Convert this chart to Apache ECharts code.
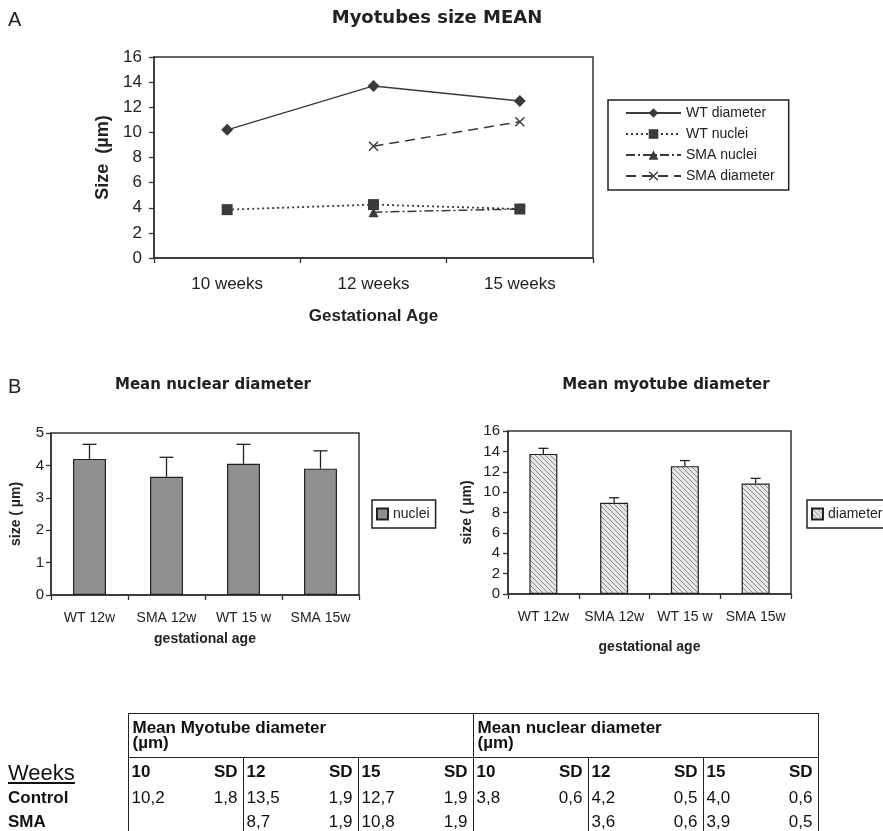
<!DOCTYPE html>
<html>
<head>
<meta charset="utf-8">
<script src="https://cdn.jsdelivr.net/npm/echarts@6/dist/echarts.min.js"></script>
<style>
  html, body { margin:0; padding:0; background:#fff; }
  #chart { position:absolute; left:0; top:0; width:883px; height:831px; }
  #tbl { position:absolute; left:8px; top:713px; border-collapse:collapse; table-layout:fixed;
         font-family:'Liberation Sans', Arial, sans-serif; color:#111; }
  #tbl td { padding:0; white-space:nowrap; overflow:visible; font-size:17px; }
  #tbl td.hdr { border:1.5px solid #222; vertical-align:top; padding:6px 0 0 4px; font-weight:bold; line-height:15px; }
  #tbl td.lab { font-weight:bold; padding-left:0; vertical-align:middle; }
  #tbl td.weeks { font-size:22px; text-decoration:underline; vertical-align:bottom; font-weight:normal; }
  #tbl td.v { border-left:1.5px solid #222; padding-left:3px; vertical-align:middle; }
  #tbl td.s { text-align:right; padding-right:5px; vertical-align:middle; }
  #tbl td.last { border-right:1.5px solid #222; }
  #tbl tr.wk td.v, #tbl tr.wk td.s { font-weight:bold; }
</style>
</head>
<body>
<div id="chart"></div>
<table id="tbl"></table>
<script>
// ---------- Panel A data ----------
const weekCats = ['10 weeks', '12 weeks', '15 weeks'];
const wtDiameter = [10.2, 13.7, 12.5];
const wtNuclei = [3.85, 4.25, 3.9];
const smaNuclei = [null, 3.65, 3.9];
const smaDiameter = [null, 8.9, 10.85];

// ---------- Panel B data ----------
const barCats = ['WT 12w', 'SMA 12w', 'WT 15 w', 'SMA 15w'];
const nucleiMean = [4.2, 3.65, 4.05, 3.9];
const nucleiErr = [0.45, 0.6, 0.6, 0.55];
const diameterMean = [13.75, 8.95, 12.55, 10.85];
const diameterErr = [0.55, 0.5, 0.55, 0.5];

// ---------- Table data ----------
const tableGroups = ['Mean Myotube diameter', 'Mean nuclear diameter'];
const tableUnit = '(\u00b5m)';
const tableWeeks = ['10', '12', '15'];
const rowLabels = ['Control', 'SMA'];
const controlMyo = ['10,2', '13,5', '12,7'];
const controlMyoSD = ['1,8', '1,9', '1,9'];
const smaMyo = ['', '8,7', '10,8'];
const smaMyoSD = ['', '1,9', '1,9'];
const controlNuc = ['3,8', '4,2', '4,0'];
const controlNucSD = ['0,6', '0,5', '0,6'];
const smaNuc = ['', '3,6', '3,9'];
const smaNucSD = ['', '0,6', '0,5'];

// ---------- build table ----------
(function buildTable(){
  const t = document.getElementById('tbl');
  let h = '<colgroup><col style="width:120px">';
  for (let i = 0; i < 6; i++) h += '<col style="width:57px"><col style="width:58px">';
  h += '</colgroup>';
  h += '<tr style="height:44px"><td></td>';
  tableGroups.forEach(g => { h += '<td class="hdr" colspan="6">' + g + '<br>' + tableUnit + '</td>'; });
  h += '</tr>';
  h += '<tr class="wk" style="height:28px"><td class="weeks">Weeks</td>';
  for (let gi = 0; gi < 2; gi++) tableWeeks.forEach((w, i) => {
    h += '<td class="v">' + w + '</td><td class="s' + (gi === 1 && i === 2 ? ' last' : '') + '">SD</td>';
  });
  h += '</tr>';
  const rows = [[controlMyo, controlMyoSD, controlNuc, controlNucSD], [smaMyo, smaMyoSD, smaNuc, smaNucSD]];
  rows.forEach((r, ri) => {
    h += '<tr style="height:24px"><td class="lab">' + rowLabels[ri] + '</td>';
    for (let gi = 0; gi < 2; gi++) {
      const vals = r[gi * 2], sds = r[gi * 2 + 1];
      vals.forEach((v, i) => {
        h += '<td class="v">' + v + '</td><td class="s' + (gi === 1 && i === 2 ? ' last' : '') + '">' + sds[i] + '</td>';
      });
    }
    h += '</tr>';
  });
  t.innerHTML = h;
})();

// ---------- helpers ----------
function hatchPattern(){
  const c = document.createElement('canvas');
  c.width = 5; c.height = 5;
  const g = c.getContext('2d');
  g.fillStyle = '#e6e6e6'; g.fillRect(0, 0, 5, 5);
  g.strokeStyle = '#8c8c8c'; g.lineWidth = 1;
  g.beginPath();
  g.moveTo(-1, -1); g.lineTo(6, 6);
  g.moveTo(-1, 4); g.lineTo(1, 6);
  g.moveTo(4, -1); g.lineTo(6, 1);
  g.stroke();
  return c;
}
function errRenderer(half){
  return function(params, api){
    const i = api.value(0), v = api.value(1), e = api.value(2);
    const p0 = api.coord([i, v]);
    const p1 = api.coord([i, v + e]);
    const s = { stroke:'#222', lineWidth:1.3 };
    return { type:'group', children:[
      { type:'line', shape:{ x1:p0[0], y1:p0[1], x2:p1[0], y2:p1[1] }, style:s },
      { type:'line', shape:{ x1:p1[0]-half, y1:p1[1], x2:p1[0]+half, y2:p1[1] }, style:s }
    ]};
  };
}
const FONT = "'Liberation Sans', Arial, sans-serif";
const INK = '#222';
const LINE = '#3a3a3a';
const axisLineStyle = { lineStyle:{ color:'#333', width:1.5 } };
const tickStyle = { show:true, length:5, lineStyle:{ color:'#333', width:1.3 } };
const xMark = 'path://M0,1L1,0L5,4L9,0L10,1L6,5L10,9L9,10L5,6L1,10L0,9L4,5Z';

const chart = echarts.init(document.getElementById('chart'), null, { renderer:'canvas' });
const option = {
  animation:false,
  backgroundColor:'#fff',
  textStyle:{ fontFamily:FONT, color:INK },
  graphic:[
    { type:'text', x:8, y:20, style:{ text:'A', fontSize:20, fontFamily:FONT, fill:INK, align:'left', verticalAlign:'middle' } },
    { type:'text', x:437, y:18, style:{ text:'Myotubes size MEAN', fontSize:18, fontWeight:'bold', fontFamily:"'DejaVu Sans', sans-serif", fill:INK, align:'center', verticalAlign:'middle' } },
    { type:'text', x:8, y:387, style:{ text:'B', fontSize:20, fontFamily:FONT, fill:INK, align:'left', verticalAlign:'middle' } },
    { type:'text', x:213, y:385, style:{ text:'Mean nuclear diameter', fontSize:15, fontWeight:'bold', fontFamily:"'DejaVu Sans', sans-serif", fill:INK, align:'center', verticalAlign:'middle' } },
    { type:'text', x:666, y:385, style:{ text:'Mean myotube diameter', fontSize:15, fontWeight:'bold', fontFamily:"'DejaVu Sans', sans-serif", fill:INK, align:'center', verticalAlign:'middle' } }
  ],
  legend:[
    { data:['WT diameter', 'WT nuclei', 'SMA nuclei', 'SMA diameter'],
      left:608, top:100, orient:'vertical', itemWidth:55, itemHeight:12, itemGap:7,
      padding:[6, 14, 7, 17], borderColor:'#222', borderWidth:1.5, backgroundColor:'#fff',
      textStyle:{ fontSize:14, color:INK, fontFamily:FONT, lineHeight:14 }, selectedMode:false },
    { data:['nuclei'], left:372, top:500, orient:'vertical', icon:'rect', itemWidth:11, itemHeight:11,
      padding:[7, 6, 7, 4], borderColor:'#222', borderWidth:1.5, backgroundColor:'#fff',
      textStyle:{ fontSize:14, color:INK, fontFamily:FONT }, selectedMode:false },
    { data:['diameter'], left:807, top:500, orient:'vertical', icon:'rect', itemWidth:11, itemHeight:11,
      padding:[7, 10, 7, 4], borderColor:'#222', borderWidth:1.5, backgroundColor:'#fff',
      textStyle:{ fontSize:14, color:INK, fontFamily:FONT }, selectedMode:false }
  ],
  grid:[
    { left:154, top:57, width:439, height:201, show:true, borderColor:'#333', borderWidth:1.5, containLabel:false },
    { left:51, top:433, width:308, height:162, show:true, borderColor:'#333', borderWidth:1.5, containLabel:false },
    { left:508, top:431, width:283, height:163, show:true, borderColor:'#333', borderWidth:1.5, containLabel:false }
  ],
  xAxis:[
    { gridIndex:0, type:'category', data:weekCats, boundaryGap:true,
      axisLine:axisLineStyle, axisTick:tickStyle,
      axisLabel:{ fontSize:17, color:INK, margin:18 },
      name:'Gestational Age', nameLocation:'middle', nameGap:50,
      nameTextStyle:{ fontSize:17, fontWeight:'bold', color:INK } },
    { gridIndex:1, type:'category', data:barCats, boundaryGap:true,
      axisLine:axisLineStyle, axisTick:tickStyle,
      axisLabel:{ fontSize:14, color:INK, margin:16, interval:0 },
      name:'gestational age', nameLocation:'middle', nameGap:37,
      nameTextStyle:{ fontSize:14, fontWeight:'bold', color:INK } },
    { gridIndex:2, type:'category', data:barCats, boundaryGap:true,
      axisLine:axisLineStyle, axisTick:tickStyle,
      axisLabel:{ fontSize:14, color:INK, margin:16, interval:0 },
      name:'gestational age', nameLocation:'middle', nameGap:46,
      nameTextStyle:{ fontSize:14, fontWeight:'bold', color:INK } }
  ],
  yAxis:[
    { gridIndex:0, type:'value', min:0, max:16, interval:2,
      axisLine:{ show:true, lineStyle:{ color:'#333', width:1.5 } }, axisTick:tickStyle, splitLine:{ show:false },
      axisLabel:{ fontSize:17, color:INK, margin:12 },
      name:'Size  (\u00b5m)', nameLocation:'middle', nameGap:42,
      nameTextStyle:{ fontSize:18, fontWeight:'bold', color:INK } },
    { gridIndex:1, type:'value', min:0, max:5, interval:1,
      axisLine:{ show:true, lineStyle:{ color:'#333', width:1.5 } }, axisTick:tickStyle, splitLine:{ show:false },
      axisLabel:{ fontSize:15, color:INK, margin:7 },
      name:'size ( \u00b5m)', nameLocation:'middle', nameGap:28,
      nameTextStyle:{ fontSize:14, fontWeight:'bold', color:INK } },
    { gridIndex:2, type:'value', min:0, max:16, interval:2,
      axisLine:{ show:true, lineStyle:{ color:'#333', width:1.5 } }, axisTick:tickStyle, splitLine:{ show:false },
      axisLabel:{ fontSize:15, color:INK, margin:8 },
      name:'size ( \u00b5m)', nameLocation:'middle', nameGap:34,
      nameTextStyle:{ fontSize:14, fontWeight:'bold', color:INK } }
  ],
  series:[
    { name:'WT diameter', type:'line', xAxisIndex:0, yAxisIndex:0, data:wtDiameter,
      symbol:'diamond', symbolSize:12, lineStyle:{ color:LINE, width:1.5, type:'solid' }, itemStyle:{ color:LINE }, z:3 },
    { name:'SMA nuclei', type:'line', xAxisIndex:0, yAxisIndex:0, data:smaNuclei,
      symbol:'triangle', symbolSize:10, lineStyle:{ color:LINE, width:1.5, type:[9, 3, 2, 3] }, itemStyle:{ color:LINE }, z:3 },
    { name:'WT nuclei', type:'line', xAxisIndex:0, yAxisIndex:0, data:wtNuclei,
      symbol:'rect', symbolSize:11, lineStyle:{ color:LINE, width:1.8, type:[2, 3] }, itemStyle:{ color:LINE }, z:4 },
    { name:'SMA diameter', type:'line', xAxisIndex:0, yAxisIndex:0, data:smaDiameter,
      symbol:xMark, symbolSize:10, lineStyle:{ color:LINE, width:1.5, type:[10, 6] }, itemStyle:{ color:LINE }, z:3 },
    { name:'nuclei', type:'bar', xAxisIndex:1, yAxisIndex:1, data:nucleiMean, barWidth:33,
      itemStyle:{ color:'#909090', borderColor:'#222', borderWidth:1.2 } },
    { type:'custom', xAxisIndex:1, yAxisIndex:1, renderItem:errRenderer(7), z:5,
      data:nucleiMean.map((v, i) => [i, v, nucleiErr[i]]) },
    { name:'diameter', type:'bar', xAxisIndex:2, yAxisIndex:2, data:diameterMean, barWidth:28,
      itemStyle:{ color:{ image:hatchPattern(), repeat:'repeat' }, borderColor:'#222', borderWidth:1.2 } },
    { type:'custom', xAxisIndex:2, yAxisIndex:2, renderItem:errRenderer(5), z:5,
      data:diameterMean.map((v, i) => [i, v, diameterErr[i]]) }
  ]
};
chart.setOption(option);
</script>
</body>
</html>
